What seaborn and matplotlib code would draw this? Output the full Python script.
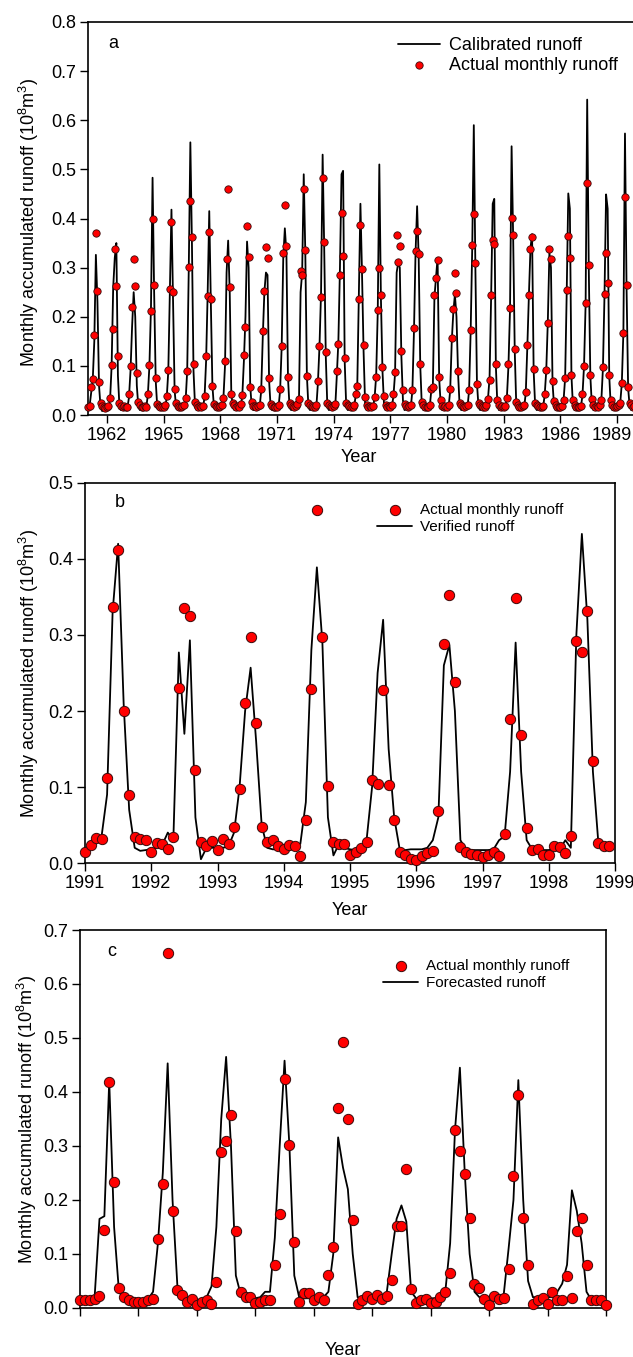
import numpy as np
import pandas as pd
import matplotlib
matplotlib.use("Agg")
import matplotlib.pyplot as plt
import matplotlib.transforms as mtransforms
import seaborn as sns

# ---- panel a: 1961-1989, monthly values (one row per year, Jan..Dec)
a_years = list(range(1961, 1990))
a_actual = [
    [0.017, 0.018, 0.057, 0.074, 0.162, 0.370, 0.252, 0.068, 0.024, 0.019, 0.016, 0.015],
    [0.017, 0.018, 0.034, 0.102, 0.175, 0.338, 0.262, 0.120, 0.024, 0.019, 0.017, 0.018],
    [0.016, 0.017, 0.043, 0.100, 0.220, 0.317, 0.263, 0.086, 0.027, 0.020, 0.017, 0.016],
    [0.018, 0.017, 0.043, 0.101, 0.212, 0.398, 0.265, 0.076, 0.022, 0.019, 0.017, 0.016],
    [0.017, 0.020, 0.039, 0.091, 0.256, 0.393, 0.250, 0.053, 0.024, 0.018, 0.016, 0.017],
    [0.019, 0.020, 0.034, 0.089, 0.302, 0.436, 0.362, 0.103, 0.027, 0.021, 0.017, 0.018],
    [0.016, 0.018, 0.038, 0.120, 0.243, 0.373, 0.236, 0.060, 0.022, 0.019, 0.017, 0.016],
    [0.018, 0.020, 0.035, 0.110, 0.317, 0.461, 0.260, 0.043, 0.024, 0.020, 0.017, 0.018],
    [0.017, 0.022, 0.040, 0.122, 0.180, 0.385, 0.322, 0.057, 0.026, 0.019, 0.018, 0.017],
    [0.018, 0.021, 0.053, 0.172, 0.253, 0.343, 0.320, 0.075, 0.023, 0.019, 0.017, 0.016],
    [0.017, 0.020, 0.053, 0.140, 0.329, 0.427, 0.344, 0.077, 0.024, 0.020, 0.018, 0.017],
    [0.018, 0.022, 0.033, 0.294, 0.284, 0.461, 0.336, 0.080, 0.025, 0.020, 0.018, 0.017],
    [0.017, 0.021, 0.070, 0.140, 0.241, 0.483, 0.352, 0.128, 0.024, 0.020, 0.018, 0.017],
    [0.018, 0.022, 0.089, 0.144, 0.286, 0.411, 0.323, 0.116, 0.025, 0.020, 0.018, 0.017],
    [0.017, 0.020, 0.043, 0.059, 0.236, 0.387, 0.298, 0.142, 0.036, 0.020, 0.017, 0.018],
    [0.016, 0.019, 0.037, 0.078, 0.213, 0.299, 0.245, 0.097, 0.038, 0.020, 0.017, 0.018],
    [0.017, 0.020, 0.042, 0.088, 0.367, 0.311, 0.344, 0.131, 0.051, 0.022, 0.018, 0.017],
    [0.018, 0.021, 0.051, 0.178, 0.333, 0.375, 0.327, 0.103, 0.026, 0.020, 0.017, 0.016],
    [0.017, 0.020, 0.052, 0.057, 0.245, 0.278, 0.316, 0.078, 0.031, 0.019, 0.017, 0.018],
    [0.016, 0.020, 0.053, 0.157, 0.216, 0.290, 0.248, 0.090, 0.025, 0.021, 0.018, 0.017],
    [0.018, 0.021, 0.050, 0.173, 0.346, 0.410, 0.309, 0.064, 0.024, 0.020, 0.018, 0.017],
    [0.017, 0.020, 0.033, 0.072, 0.244, 0.356, 0.348, 0.103, 0.030, 0.020, 0.017, 0.018],
    [0.016, 0.018, 0.035, 0.103, 0.217, 0.402, 0.367, 0.135, 0.026, 0.020, 0.017, 0.016],
    [0.018, 0.020, 0.047, 0.143, 0.245, 0.338, 0.363, 0.093, 0.025, 0.020, 0.018, 0.017],
    [0.017, 0.019, 0.042, 0.091, 0.187, 0.338, 0.317, 0.069, 0.028, 0.020, 0.017, 0.016],
    [0.017, 0.019, 0.030, 0.075, 0.254, 0.364, 0.320, 0.082, 0.030, 0.020, 0.017, 0.016],
    [0.016, 0.018, 0.042, 0.100, 0.227, 0.473, 0.306, 0.081, 0.033, 0.020, 0.017, 0.018],
    [0.017, 0.020, 0.030, 0.097, 0.247, 0.330, 0.268, 0.082, 0.030, 0.021, 0.017, 0.016],
    [0.018, 0.020, 0.025, 0.065, 0.166, 0.443, 0.265, 0.058, 0.024, 0.020, 0.017, 0.018],
]
a_calibrated = [
    [0.015, 0.018, 0.045, 0.070, 0.150, 0.326, 0.230, 0.060, 0.015, 0.008, 0.012, 0.014],
    [0.014, 0.016, 0.030, 0.100, 0.260, 0.320, 0.350, 0.080, 0.015, 0.010, 0.012, 0.014],
    [0.014, 0.015, 0.035, 0.090, 0.180, 0.250, 0.200, 0.060, 0.015, 0.010, 0.012, 0.014],
    [0.014, 0.016, 0.040, 0.100, 0.220, 0.483, 0.250, 0.070, 0.015, 0.010, 0.012, 0.014],
    [0.014, 0.016, 0.035, 0.090, 0.250, 0.418, 0.240, 0.050, 0.014, 0.010, 0.012, 0.014],
    [0.014, 0.016, 0.030, 0.090, 0.300, 0.555, 0.350, 0.090, 0.016, 0.010, 0.012, 0.014],
    [0.014, 0.016, 0.035, 0.110, 0.250, 0.415, 0.230, 0.060, 0.015, 0.010, 0.012, 0.014],
    [0.014, 0.016, 0.035, 0.100, 0.290, 0.355, 0.250, 0.045, 0.015, 0.010, 0.012, 0.014],
    [0.014, 0.016, 0.040, 0.110, 0.200, 0.353, 0.300, 0.060, 0.015, 0.010, 0.012, 0.014],
    [0.014, 0.016, 0.050, 0.160, 0.250, 0.290, 0.285, 0.070, 0.015, 0.010, 0.012, 0.014],
    [0.014, 0.016, 0.050, 0.140, 0.320, 0.380, 0.330, 0.075, 0.015, 0.010, 0.012, 0.014],
    [0.014, 0.016, 0.035, 0.250, 0.290, 0.490, 0.330, 0.080, 0.015, 0.010, 0.012, 0.014],
    [0.014, 0.016, 0.065, 0.140, 0.250, 0.530, 0.340, 0.120, 0.016, 0.010, 0.012, 0.014],
    [0.014, 0.016, 0.080, 0.150, 0.300, 0.490, 0.497, 0.110, 0.016, 0.010, 0.012, 0.014],
    [0.014, 0.016, 0.040, 0.060, 0.240, 0.430, 0.290, 0.130, 0.020, 0.010, 0.012, 0.014],
    [0.014, 0.016, 0.035, 0.080, 0.210, 0.510, 0.240, 0.090, 0.020, 0.010, 0.012, 0.014],
    [0.014, 0.016, 0.040, 0.085, 0.290, 0.310, 0.300, 0.120, 0.030, 0.010, 0.012, 0.014],
    [0.014, 0.016, 0.050, 0.170, 0.330, 0.425, 0.320, 0.100, 0.018, 0.010, 0.012, 0.014],
    [0.014, 0.016, 0.050, 0.060, 0.240, 0.280, 0.320, 0.075, 0.020, 0.010, 0.012, 0.014],
    [0.014, 0.016, 0.050, 0.150, 0.210, 0.245, 0.200, 0.085, 0.018, 0.010, 0.012, 0.014],
    [0.014, 0.016, 0.050, 0.170, 0.340, 0.590, 0.300, 0.065, 0.016, 0.010, 0.012, 0.014],
    [0.014, 0.016, 0.033, 0.075, 0.240, 0.430, 0.440, 0.100, 0.018, 0.010, 0.012, 0.014],
    [0.014, 0.016, 0.035, 0.100, 0.215, 0.547, 0.360, 0.130, 0.016, 0.010, 0.012, 0.014],
    [0.014, 0.016, 0.045, 0.140, 0.245, 0.340, 0.368, 0.090, 0.016, 0.010, 0.012, 0.014],
    [0.014, 0.016, 0.040, 0.090, 0.190, 0.330, 0.300, 0.065, 0.016, 0.010, 0.012, 0.014],
    [0.014, 0.016, 0.030, 0.075, 0.250, 0.451, 0.420, 0.080, 0.016, 0.010, 0.012, 0.014],
    [0.014, 0.016, 0.040, 0.100, 0.225, 0.642, 0.300, 0.080, 0.018, 0.010, 0.012, 0.014],
    [0.014, 0.016, 0.030, 0.095, 0.245, 0.449, 0.420, 0.080, 0.016, 0.010, 0.012, 0.014],
    [0.014, 0.016, 0.025, 0.065, 0.170, 0.573, 0.260, 0.055, 0.016, 0.010, 0.012, 0.014],
]

# ---- panel b: 1991-1998
b_years = list(range(1991, 1999))
b_actual = [
    [0.014, 0.024, 0.033, 0.031, 0.112, 0.337, 0.412, 0.200, 0.089, 0.034, 0.032, 0.030],
    [0.014, 0.026, 0.025, 0.019, 0.034, 0.230, 0.335, 0.325, 0.123, 0.027, 0.022, 0.029],
    [0.017, 0.031, 0.025, 0.048, 0.098, 0.210, 0.298, 0.184, 0.048, 0.027, 0.030, 0.022],
    [0.018, 0.024, 0.022, 0.009, 0.057, 0.229, 0.465, 0.298, 0.101, 0.027, 0.025, 0.025],
    [0.011, 0.014, 0.020, 0.027, 0.109, 0.104, 0.227, 0.102, 0.056, 0.015, 0.011, 0.005],
    [0.004, 0.009, 0.013, 0.016, 0.069, 0.288, 0.353, 0.238, 0.021, 0.014, 0.012, 0.010],
    [0.008, 0.010, 0.014, 0.009, 0.038, 0.189, 0.349, 0.168, 0.046, 0.017, 0.018, 0.011],
    [0.010, 0.022, 0.021, 0.013, 0.036, 0.292, 0.277, 0.332, 0.134, 0.026, 0.023, 0.023],
]
b_verified = [
    [0.014, 0.020, 0.028, 0.035, 0.090, 0.330, 0.420, 0.210, 0.070, 0.020, 0.016, 0.017],
    [0.018, 0.020, 0.024, 0.040, 0.030, 0.277, 0.170, 0.293, 0.060, 0.005, 0.020, 0.020],
    [0.020, 0.020, 0.022, 0.040, 0.100, 0.200, 0.257, 0.160, 0.050, 0.020, 0.018, 0.018],
    [0.020, 0.022, 0.024, 0.025, 0.080, 0.280, 0.389, 0.290, 0.060, 0.010, 0.025, 0.020],
    [0.018, 0.017, 0.020, 0.030, 0.100, 0.250, 0.320, 0.150, 0.060, 0.018, 0.017, 0.018],
    [0.018, 0.018, 0.020, 0.030, 0.060, 0.260, 0.287, 0.200, 0.030, 0.018, 0.017, 0.017],
    [0.017, 0.017, 0.018, 0.030, 0.035, 0.120, 0.290, 0.120, 0.030, 0.018, 0.017, 0.017],
    [0.017, 0.020, 0.018, 0.030, 0.020, 0.300, 0.433, 0.320, 0.120, 0.025, 0.020, 0.022],
]

# ---- panel c: 9 unlabeled years (+ one final month)
c_actual = [
    [0.014, 0.015, 0.015, 0.017, 0.022, 0.144, 0.419, 0.234, 0.037, 0.020, 0.014, 0.011],
    [0.011, 0.011, 0.015, 0.017, 0.128, 0.229, 0.658, 0.180, 0.033, 0.025, 0.012, 0.017],
    [0.005, 0.011, 0.015, 0.008, 0.049, 0.288, 0.310, 0.358, 0.142, 0.029, 0.020, 0.020],
    [0.009, 0.011, 0.014, 0.014, 0.079, 0.174, 0.424, 0.301, 0.123, 0.012, 0.028, 0.027],
    [0.015, 0.020, 0.015, 0.062, 0.113, 0.371, 0.492, 0.350, 0.163, 0.008, 0.015, 0.022],
    [0.017, 0.025, 0.017, 0.022, 0.051, 0.152, 0.152, 0.257, 0.036, 0.009, 0.014, 0.017],
    [0.009, 0.012, 0.020, 0.029, 0.064, 0.330, 0.290, 0.249, 0.167, 0.044, 0.037, 0.017],
    [0.006, 0.023, 0.017, 0.018, 0.073, 0.245, 0.394, 0.167, 0.079, 0.008, 0.015, 0.018],
    [0.008, 0.029, 0.015, 0.015, 0.060, 0.018, 0.143, 0.167, 0.080, 0.014, 0.015, 0.014],
    [0.006],
]
c_forecast = [
    [0.015, 0.016, 0.017, 0.020, 0.165, 0.170, 0.420, 0.150, 0.030, 0.018, 0.016, 0.016],
    [0.016, 0.016, 0.017, 0.030, 0.120, 0.250, 0.453, 0.200, 0.040, 0.020, 0.016, 0.016],
    [0.015, 0.016, 0.020, 0.040, 0.150, 0.350, 0.465, 0.300, 0.060, 0.025, 0.018, 0.018],
    [0.018, 0.020, 0.030, 0.030, 0.130, 0.300, 0.458, 0.300, 0.060, 0.020, 0.018, 0.018],
    [0.018, 0.018, 0.020, 0.030, 0.100, 0.316, 0.260, 0.220, 0.100, 0.020, 0.018, 0.018],
    [0.018, 0.018, 0.020, 0.030, 0.100, 0.165, 0.190, 0.160, 0.030, 0.018, 0.018, 0.018],
    [0.018, 0.018, 0.020, 0.030, 0.120, 0.330, 0.445, 0.250, 0.100, 0.030, 0.020, 0.020],
    [0.020, 0.020, 0.020, 0.025, 0.110, 0.200, 0.422, 0.200, 0.050, 0.020, 0.020, 0.020],
    [0.020, 0.020, 0.030, 0.045, 0.080, 0.218, 0.180, 0.120, 0.030, 0.015, 0.015, 0.012],
    [0.008],
]


def monthly_frame(start, rows_obs, rows_model):
    obs = [v for row in rows_obs for v in row]
    mod = [v for row in rows_model for v in row]
    return pd.DataFrame({"t": start + np.arange(len(obs)) / 12.0,
                         "obs": obs, "model": mod})


df_a = monthly_frame(a_years[0], a_actual, a_calibrated)
df_b = monthly_frame(b_years[0], b_actual, b_verified)
df_c = monthly_frame(0, c_actual, c_forecast)

sns.set_style("ticks")
plt.rcParams["font.family"] = ["Liberation Sans", "DejaVu Sans"]
plt.rcParams["mathtext.fontset"] = "custom"
plt.rcParams["mathtext.rm"] = "Liberation Sans"
plt.rcParams["mathtext.it"] = "Liberation Sans:italic"
plt.rcParams["axes.edgecolor"] = "black"
plt.rcParams["xtick.color"] = "black"
plt.rcParams["ytick.color"] = "black"
plt.rcParams["text.color"] = "black"
plt.rcParams["axes.labelcolor"] = "black"

W, H = 633, 1357
fig = plt.figure(figsize=(W / 100, H / 100), dpi=100)


def px_axes(left, right, top, bottom):
    return fig.add_axes([left / W, 1 - bottom / H, (right - left) / W, (bottom - top) / H])


ylab = "Monthly accumulated runoff (10$^8$m$^3$)"
red = "#ff0000"
edge = "#3a0a0a"


def style(ax, ymax):
    ax.set_ylim(0, ymax)
    ax.set_yticks(np.arange(0, ymax + 1e-9, 0.1))
    ax.set_yticklabels([f"{v:.1f}" for v in np.arange(0, ymax + 1e-9, 0.1)])
    ax.tick_params(direction="out", length=5.5, width=1.0, labelsize=13, pad=3,
                   top=False, right=False)
    for s in ax.spines.values():
        s.set_linewidth(1.2)
        s.set_color("black")


# panel a
ax_a = px_axes(88, 636, 22, 415)
sns.lineplot(data=df_a, x="t", y="model", color="black", lw=1.3, ax=ax_a,
             label="Calibrated runoff")
sns.scatterplot(data=df_a, x="t", y="obs", color=red, edgecolor=edge, linewidth=0.6,
                s=28, ax=ax_a, zorder=3, clip_on=False, label="Actual monthly runoff")
ax_a.set_xlim(1961, 1990)
ax_a.set_xticks(np.arange(1962, 1990, 3))
style(ax_a, 0.8)
last = ax_a.get_xticklabels()[-1]
last.set_transform(last.get_transform() +
                   mtransforms.ScaledTranslation(-5 / 100, 0, fig.dpi_scale_trans))
h, l = ax_a.get_legend_handles_labels()
ax_a.legend(h, l, loc="upper left", bbox_to_anchor=(398 / W, 1 - 37 / H),
            bbox_transform=fig.transFigure, frameon=False, fontsize=13,
            handlelength=2.3, handletextpad=0.55, borderpad=0, borderaxespad=0,
            labelspacing=0.15)

# panel b
ax_b = px_axes(85, 615, 483, 863)
sns.scatterplot(data=df_b, x="t", y="obs", color=red, edgecolor=edge, linewidth=0.7,
                s=55, ax=ax_b, zorder=3, clip_on=False, label="Actual monthly runoff")
sns.lineplot(data=df_b, x="t", y="model", color="black", lw=1.3, ax=ax_b,
             label="Verified runoff")
ax_b.set_xlim(1991, 1999)
ax_b.set_xticks(np.arange(1991, 2000, 1))
style(ax_b, 0.5)
h, l = ax_b.get_legend_handles_labels()
ax_b.legend(h, l, loc="upper left", bbox_to_anchor=(377 / W, 1 - 503 / H),
            bbox_transform=fig.transFigure, frameon=False, fontsize=11,
            handlelength=2.3, handletextpad=0.5, borderpad=0, borderaxespad=0,
            labelspacing=0.2)

# panel c
ax_c = px_axes(80, 606, 930, 1308)
sns.scatterplot(data=df_c, x="t", y="obs", color=red, edgecolor=edge, linewidth=0.7,
                s=55, ax=ax_c, zorder=3, clip_on=False, label="Actual monthly runoff")
sns.lineplot(data=df_c, x="t", y="model", color="black", lw=1.3, ax=ax_c,
             label="Forecasted runoff")
ax_c.set_xlim(0, 9)
ax_c.set_xticks(np.arange(0, 10, 1))
ax_c.set_xticklabels([])
style(ax_c, 0.7)
h, l = ax_c.get_legend_handles_labels()
ax_c.legend(h, l, loc="upper left", bbox_to_anchor=(383 / W, 1 - 959 / H),
            bbox_transform=fig.transFigure, frameon=False, fontsize=11,
            handlelength=2.3, handletextpad=0.5, borderpad=0, borderaxespad=0,
            labelspacing=0.2)

# axis labels
for ax, (lx, ly), (xx, xy) in [
    (ax_a, ((41 - 88) / 548, 0.49), (0.494, (415 - 449) / 393)),
    (ax_b, ((41 - 85) / 530, 0.5), (0.5, (863 - 902) / 380)),
    (ax_c, ((39 - 80) / 526, 0.5), (0.5, (1308 - 1342) / 378)),
]:
    ax.set_ylabel(ylab, fontsize=13)
    ax.set_xlabel("Year", fontsize=13)
    ax.yaxis.set_label_coords(lx, ly)
    ax.xaxis.set_label_coords(xx, xy)

fig.text(113 / W, 1 - 43 / H, "a", fontsize=13, ha="center", va="center")
fig.text(120 / W, 1 - 503 / H, "b", fontsize=13, ha="center", va="center")
fig.text(112 / W, 1 - 951 / H, "c", fontsize=13, ha="center", va="center")

fig.savefig("out.png", dpi=100)
